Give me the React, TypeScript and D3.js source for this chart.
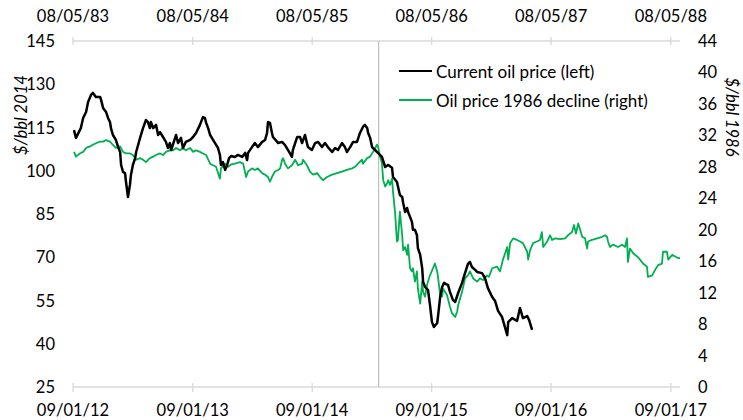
import * as d3 from 'd3';

// days counted from the first date of each axis
const blackStart = new Date(2012, 0, 9);
const greenStart = new Date(1983, 4, 8);
const spanDays = 1855;

const blackDays = [3, 9, 24, 31, 40, 46, 55, 61, 70, 83, 86, 92, 101, 107, 113, 116, 122, 131, 138, 144, 147, 153, 159, 162, 168, 174, 177, 183, 190, 193, 205, 214, 223, 229, 235, 238, 245, 254, 260, 266, 275, 284, 290, 296, 300, 312, 315, 321, 330, 336, 345, 358, 367, 376, 388, 397, 403, 407, 413, 419, 428, 434, 443, 449, 452, 458, 465, 471, 477, 483, 495, 504, 517, 526, 532, 535, 547, 556, 565, 578, 587, 593, 596, 602, 608, 611, 624, 627, 639, 648, 657, 669, 672, 685, 694, 700, 709, 718, 730, 740, 749, 761, 770, 779, 792, 801, 810, 822, 831, 837, 847, 856, 868, 877, 886, 892, 899, 902, 908, 914, 923, 932, 944, 954, 963, 975, 978, 990, 999, 1006, 1009, 1015, 1021, 1024, 1030, 1036, 1039, 1045, 1051, 1054, 1061, 1067, 1070, 1076, 1085, 1091, 1097, 1103, 1113, 1116, 1122, 1128, 1134, 1140, 1146, 1152, 1161, 1168, 1177, 1189, 1198, 1207, 1213, 1219, 1229, 1235, 1250, 1259, 1268, 1281, 1290, 1299, 1311, 1320, 1327, 1330, 1342, 1357, 1366, 1375, 1388, 1394, 1403];
const blackPrice = [114.1, 111.4, 114.8, 118.3, 120.4, 123.8, 126.3, 127.0, 125.6, 125.6, 124.5, 121.8, 120.4, 118.3, 116.9, 114.8, 112.4, 110.7, 108.2, 106.5, 102.0, 99.6, 99.2, 96.1, 90.9, 95.1, 98.5, 102.0, 104.4, 106.5, 111.4, 114.8, 117.6, 116.9, 114.8, 116.9, 114.8, 115.9, 112.4, 113.4, 111.7, 110.0, 107.9, 109.6, 107.2, 111.4, 112.4, 109.6, 111.4, 107.9, 110.0, 110.7, 111.7, 113.1, 115.9, 118.6, 118.3, 116.6, 114.8, 112.4, 110.7, 109.6, 107.9, 105.5, 102.0, 103.0, 100.3, 102.0, 104.4, 105.1, 104.8, 105.5, 104.8, 106.2, 103.7, 106.2, 108.2, 109.6, 108.2, 110.0, 110.7, 113.1, 116.9, 116.6, 113.1, 111.7, 110.0, 109.6, 110.0, 108.9, 107.2, 104.8, 107.2, 111.7, 111.7, 109.6, 112.4, 108.2, 107.2, 109.6, 110.0, 108.2, 109.6, 108.2, 106.5, 107.9, 107.2, 109.6, 108.2, 106.5, 108.2, 110.0, 110.0, 113.1, 115.2, 115.9, 114.8, 113.1, 111.4, 108.2, 107.2, 106.2, 104.8, 101.3, 102.0, 101.0, 97.8, 96.1, 91.6, 90.9, 88.8, 85.7, 87.1, 85.7, 84.0, 82.2, 79.5, 79.5, 77.7, 73.2, 70.8, 66.3, 61.4, 59.7, 58.6, 53.4, 47.5, 45.8, 47.2, 50.0, 56.2, 59.7, 61.1, 60.7, 60.4, 58.0, 55.2, 54.5, 57.6, 61.1, 64.5, 67.7, 68.4, 66.6, 65.6, 64.9, 64.5, 62.8, 59.3, 56.2, 54.8, 51.4, 49.3, 45.8, 43.0, 47.5, 48.9, 47.9, 52.4, 48.9, 49.6, 48.2, 44.8];

const greenDays = [3, 9, 21, 31, 40, 52, 61, 70, 83, 92, 101, 113, 122, 131, 144, 153, 162, 174, 183, 193, 205, 214, 223, 235, 245, 254, 266, 275, 284, 296, 306, 315, 327, 336, 345, 358, 367, 376, 388, 397, 407, 419, 428, 437, 449, 452, 465, 474, 483, 495, 510, 520, 529, 535, 547, 556, 565, 578, 587, 596, 602, 608, 617, 627, 633, 639, 642, 648, 657, 669, 679, 688, 700, 703, 715, 724, 734, 746, 755, 764, 776, 792, 807, 822, 837, 853, 862, 871, 883, 886, 899, 908, 917, 929, 932, 938, 944, 948, 954, 960, 963, 969, 975, 978, 984, 990, 993, 999, 1006, 1009, 1015, 1021, 1024, 1030, 1036, 1039, 1045, 1051, 1054, 1061, 1067, 1070, 1076, 1082, 1091, 1100, 1106, 1113, 1116, 1122, 1128, 1131, 1143, 1152, 1158, 1168, 1174, 1177, 1189, 1198, 1207, 1213, 1223, 1235, 1244, 1253, 1265, 1271, 1281, 1296, 1305, 1314, 1327, 1330, 1336, 1345, 1357, 1366, 1375, 1388, 1391, 1397, 1406, 1418, 1427, 1433, 1437, 1449, 1458, 1464, 1473, 1489, 1504, 1513, 1525, 1531, 1537, 1544, 1550, 1556, 1565, 1571, 1574, 1586, 1602, 1617, 1626, 1632, 1635, 1641, 1650, 1666, 1678, 1687, 1693, 1696, 1702, 1712, 1724, 1733, 1742, 1754, 1757, 1770, 1779, 1788, 1800, 1803, 1815, 1819, 1831, 1840, 1849, 1855];
const greenPrice = [29.9, 29.3, 29.7, 29.9, 30.4, 30.6, 30.8, 31.0, 31.2, 31.2, 31.4, 31.2, 30.8, 30.4, 30.6, 29.9, 29.7, 29.7, 29.5, 28.9, 29.1, 28.9, 28.6, 29.1, 29.3, 29.5, 29.7, 29.5, 29.9, 30.1, 30.1, 30.4, 30.1, 30.4, 30.1, 30.4, 29.9, 30.1, 29.9, 29.7, 29.5, 28.4, 28.2, 28.0, 26.5, 27.8, 28.4, 28.0, 28.3, 28.4, 28.6, 28.4, 26.7, 27.4, 27.8, 27.6, 27.8, 27.2, 27.0, 26.7, 26.1, 26.7, 27.4, 27.6, 27.8, 28.9, 29.1, 28.4, 27.8, 28.2, 28.9, 28.2, 28.4, 28.9, 28.2, 27.4, 27.0, 27.2, 26.7, 26.3, 26.7, 27.0, 27.2, 27.4, 27.6, 27.8, 28.0, 28.4, 28.9, 28.4, 29.1, 29.3, 29.9, 30.8, 30.6, 29.3, 28.5, 26.3, 25.5, 25.9, 26.3, 25.7, 26.5, 24.8, 22.3, 18.5, 18.7, 22.3, 19.3, 17.4, 17.8, 16.8, 18.1, 15.1, 14.7, 15.1, 13.4, 14.7, 12.5, 10.6, 13.4, 12.1, 11.5, 13.0, 14.2, 15.1, 15.7, 14.7, 13.8, 11.7, 11.5, 12.5, 11.7, 10.2, 9.4, 8.9, 9.6, 10.4, 12.1, 13.8, 14.2, 14.7, 13.8, 13.4, 13.8, 13.6, 14.2, 14.0, 15.1, 15.3, 14.7, 16.2, 17.8, 16.2, 18.3, 18.9, 18.7, 18.5, 18.3, 17.2, 16.2, 17.4, 18.3, 18.5, 18.7, 19.7, 17.8, 18.5, 19.3, 18.7, 18.9, 18.8, 18.9, 19.3, 19.7, 20.6, 19.5, 20.8, 20.0, 19.1, 18.9, 17.6, 18.5, 18.7, 18.9, 19.1, 19.3, 19.1, 18.5, 17.8, 18.1, 17.8, 18.1, 17.8, 18.9, 15.9, 17.6, 17.0, 16.6, 16.2, 15.7, 15.3, 14.0, 14.2, 14.9, 15.5, 15.7, 17.2, 17.2, 16.2, 16.8, 16.6, 16.4, 16.4];

const leftTicks = [25, 40, 55, 70, 85, 100, 115, 130, 145];
const rightTicks = [0, 4, 8, 12, 16, 20, 24, 28, 32, 36, 40, 44];
const bottomYears = [2012, 2013, 2014, 2015, 2016, 2017];
const topYears = [1983, 1984, 1985, 1986, 1987, 1988];
const markerDate = new Date(2014, 6, 31);

const legendItems = [
  { label: 'Current oil price (left)', color: '#000000' },
  { label: 'Oil price 1986 decline (right)', color: '#00B050' },
];

const W = 743;
const H = 420;
const plot = { left: 73, right: 680, top: 41, bottom: 387 };
const font = 'Lato, "Open Sans", sans-serif';
const fs = 16.5;

const App = () => {
  const x = d3
    .scaleTime()
    .domain([blackStart, d3.timeDay.offset(blackStart, spanDays)])
    .range([plot.left, plot.right]);
  const xTop = d3
    .scaleTime()
    .domain([greenStart, d3.timeDay.offset(greenStart, spanDays)])
    .range([plot.left, plot.right]);
  const yLeft = d3.scaleLinear().domain([25, 145]).range([plot.bottom, plot.top]);
  const yRight = d3.scaleLinear().domain([0, 44]).range([plot.bottom, plot.top]);
  const fmt = d3.timeFormat('%d/%m/%y');

  const blackPts = blackDays.map((d, i) => [x(d3.timeDay.offset(blackStart, d)), yLeft(blackPrice[i])] as [number, number]);
  const greenPts = greenDays.map((d, i) => [xTop(d3.timeDay.offset(greenStart, d)), yRight(greenPrice[i])] as [number, number]);
  const line = d3.line();

  const bottomTicks = bottomYears.map((y) => new Date(y, 0, 9));
  const topTicks = topYears.map((y) => new Date(y, 4, 8));

  return (
    <svg
      width={W}
      height={H}
      style={{ position: 'absolute', left: 0, top: 0, background: '#fff' }}
      fontFamily={font}
      fontSize={fs}
    >
      {/* top axis */}
      <line x1={plot.left} x2={plot.right} y1={plot.top} y2={plot.top} stroke='#d9d9d9' strokeWidth={1.3} />
      {topTicks.map((t) => (
        <g key={'t' + t.getTime()}>
          <line x1={xTop(t)} x2={xTop(t)} y1={plot.top - 4} y2={plot.top + 4} stroke='#d9d9d9' strokeWidth={1.3} />
          <text x={xTop(t)} y={16} textAnchor='middle' dominantBaseline='central' fill='#000'>
            {fmt(t)}
          </text>
        </g>
      ))}

      {/* bottom axis */}
      <line x1={plot.left} x2={plot.right} y1={plot.bottom} y2={plot.bottom} stroke='#d9d9d9' strokeWidth={1.3} />
      {bottomTicks.map((t) => (
        <g key={'b' + t.getTime()}>
          <line x1={x(t)} x2={x(t)} y1={plot.bottom - 4} y2={plot.bottom + 5} stroke='#d9d9d9' strokeWidth={1.3} />
          <text x={x(t)} y={410} textAnchor='middle' dominantBaseline='central' fill='#000'>
            {fmt(t)}
          </text>
        </g>
      ))}

      {/* left axis labels */}
      {leftTicks.map((v) => (
        <text key={'l' + v} x={55} y={yLeft(v)} textAnchor='end' dominantBaseline='central' fill='#000'>
          {v}
        </text>
      ))}
      {/* right axis labels */}
      {rightTicks.map((v) => (
        <text key={'r' + v} x={698} y={yRight(v)} textAnchor='start' dominantBaseline='central' fill='#000'>
          {v}
        </text>
      ))}

      <text
        transform='translate(21,115) rotate(-90)'
        textAnchor='middle'
        dominantBaseline='central'
        fontStyle='italic'
        fill='#000'
      >
        $/bbl 2014
      </text>
      <text
        transform='translate(732,117) rotate(90)'
        textAnchor='middle'
        dominantBaseline='central'
        fontStyle='italic'
        fill='#000'
      >
        $/bbl 1986
      </text>

      {/* marker line */}
      <line x1={x(markerDate)} x2={x(markerDate)} y1={plot.top} y2={plot.bottom} stroke='#bfbfbf' strokeWidth={1.2} />

      <path d={line(greenPts) || ''} fill='none' stroke='#00B050' strokeWidth={1.8} strokeLinejoin='round' />
      <path d={line(blackPts) || ''} fill='none' stroke='#000' strokeWidth={2.5} strokeLinejoin='round' />

      {/* legend */}
      {legendItems.map((item, i) => (
        <g key={item.label} transform={`translate(399,${71 + i * 29})`}>
          <line x1={0} x2={33} y1={0} y2={0} stroke={item.color} strokeWidth={2} />
          <text x={37} y={0} dominantBaseline='central' fill='#000' fontSize={17}>
            {item.label}
          </text>
        </g>
      ))}
    </svg>
  );
};

export default App;
